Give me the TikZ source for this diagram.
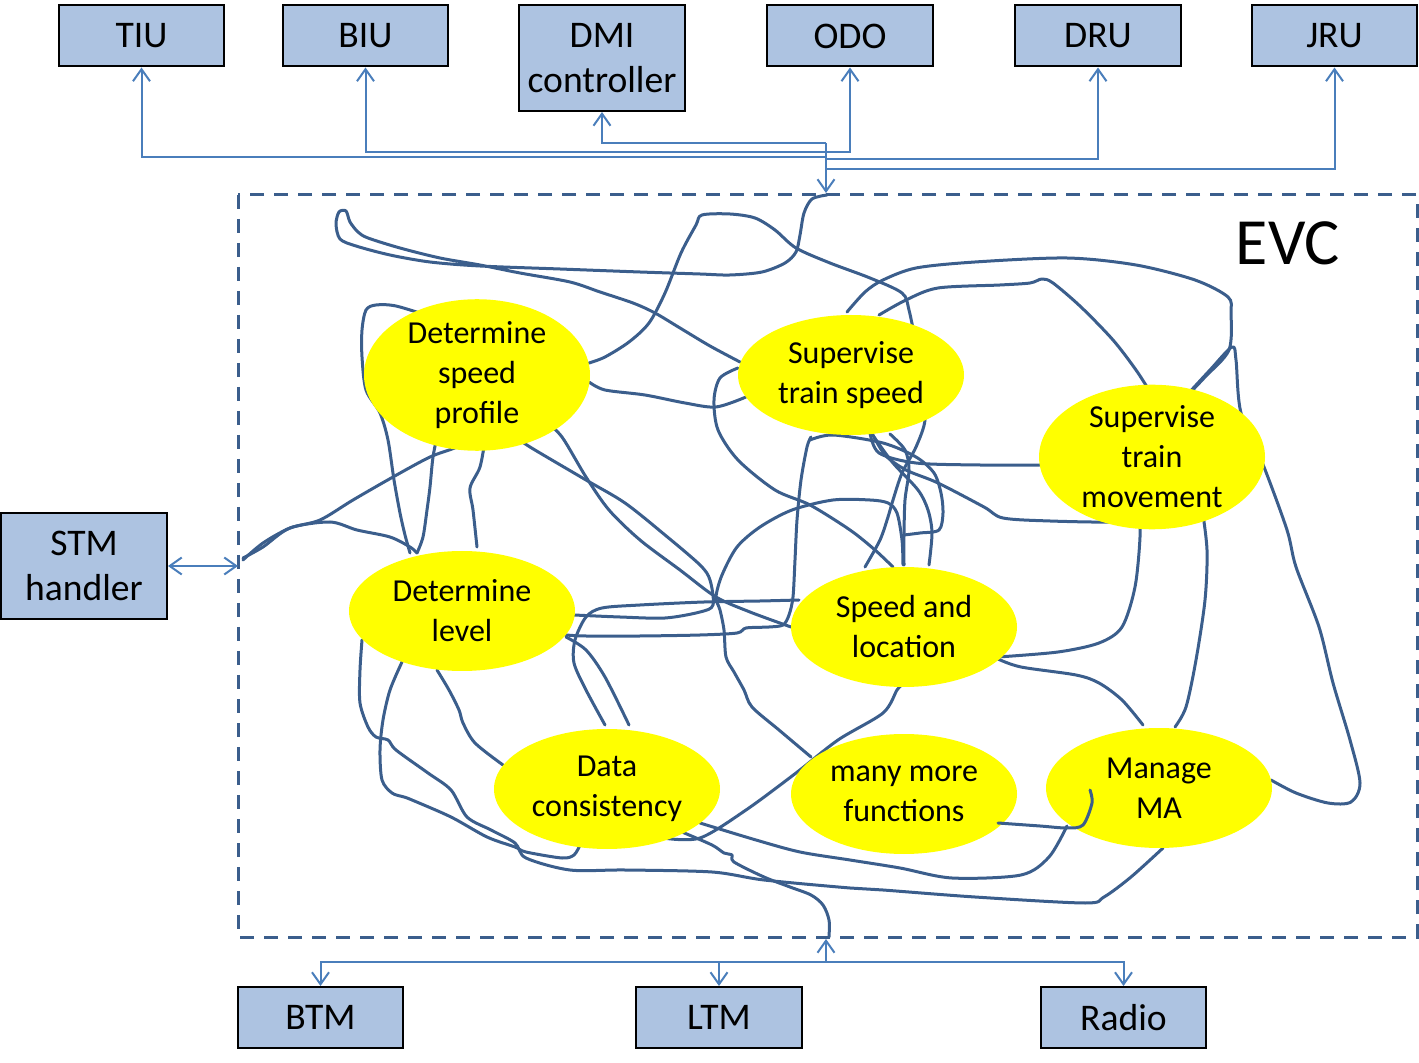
\documentclass[tikz,border=0pt]{standalone}
\usepackage{fontspec}
\setmainfont{Carlito}
\usetikzlibrary{shapes.geometric,arrows.meta,calc}
\definecolor{boxblue}{HTML}{ADC3E1}
\definecolor{connblue}{HTML}{4A7EBB}
\definecolor{spagblue}{HTML}{3B5E8C}
\definecolor{fnyellow}{HTML}{FFFF00}
\pgfdeclarelayer{bg}
\pgfsetlayers{bg,main}
\tikzset{
  unitbox/.style={draw=black, line width=1pt, fill=boxblue, inner sep=0pt,
    minimum width=82.5pt, minimum height=30.5pt, align=center,
    font=\fontsize{18.8}{22.5}\selectfont},
  fnell/.style={ellipse, fill=fnyellow, inner sep=0pt, minimum width=113pt,
    minimum height=60pt, align=center, font=\fontsize{16}{20}\selectfont},
  conn/.style={draw=connblue, line width=1pt,
    arrows={-Straight Barb[length=6pt,width=8.5pt]}},
  spag/.style={draw=spagblue, line width=1.5pt, line join=round, line cap=round},
  evcbox/.style={draw=spagblue, line width=1.5pt, dash pattern=on 7pt off 5pt},
}
\begin{document}
\begin{tikzpicture}[x=0.5pt,y=-0.5pt]
\useasboundingbox (0,0) rectangle (1419,1063);

% EVC frame
\coordinate (evcNW) at (238,195);
\coordinate (evcSE) at (1417,937);
\draw[evcbox] (evcNW) rectangle (evcSE);
\node[font=\fontsize{33}{38}\selectfont] (evc) at (1288,243) {EVC};

% outer units
\node[unitbox] (tiu) at (141.5,36) {TIU};
\node[unitbox] (biu) at (365.5,36) {BIU};
\node[unitbox, minimum width=83pt, minimum height=53pt] (dmi) at (602,58) {DMI\\controller};
\node[unitbox, minimum width=83pt] (odo) at (850,36) {ODO};
\node[unitbox, minimum width=83pt] (dru) at (1098,36) {DRU};
\node[unitbox] (jru) at (1334.5,36) {JRU};
\node[unitbox, minimum width=83pt, minimum height=53pt] (stm) at (84,566) {STM\\handler};
\node[unitbox] (btm) at (320.5,1017.5) {BTM};
\node[unitbox, minimum width=83pt] (ltm) at (719,1017.5) {LTM};
\node[unitbox] (radio) at (1123.5,1017.5) {Radio};

% functions
\node[fnell] (dsp) at (477,375) {Determine\\speed\\profile};
\node[fnell] (sts) at (851,375) {Supervise\\train speed};
\node[fnell] (stmv) at (1152,457) {Supervise\\train\\movement};
\node[fnell] (dl) at (462,611) {Determine\\level};
\node[fnell] (sl) at (904,627) {Speed and\\location};
\node[fnell] (dc) at (607,789) {Data\\consistency};
\node[fnell] (mmf) at (904,794) {many more\\functions};
\node[fnell] (mma) at (1159,788) {Manage\\MA};

% top bus
\coordinate (topin) at (826,193);
\coordinate (jD) at (826,143);
\coordinate (jB) at (826,152);
\coordinate (jT) at (826,157);
\coordinate (jR) at (826,159);
\coordinate (jJ) at (826,169);
\draw[conn] (jD) -| (dmi.south);
\draw[conn] (jT) -| (tiu.south);
\draw[conn] (jB) -| (biu.south);
\draw[conn] (jB) -| (odo.south);
\draw[conn] (jR) -| (dru.south);
\draw[conn] (jJ) -| (jru.south);
\draw[conn] (jD) -- (topin);

% bottom bus
\coordinate (botin) at (826,939);
\coordinate (jBot) at (826,962);
\draw[conn] (jBot) -- (botin);
\draw[conn] (jBot) -| (btm.north);
\draw[conn] (jBot) -| (ltm.north);
\draw[conn] (jBot) -| (radio.north);

% STM link
\draw[conn, arrows={Straight Barb[length=6pt,width=8.5pt]-Straight Barb[length=6pt,width=8.5pt]}]
  (stm.east) -- (stm.east -| evcNW);

% internal interconnections (hand drawn)
\begin{pgfonlayer}{bg}
\draw[spag] plot[smooth, tension=0.5] coordinates {(827,195) (812,199) (804,213) (800,235) (796,252) (785,263) (762,272) (730,275) (700,274) (640,272) (560,269) (480,266) (430,262) (390,255) (356,246) (340,239) (336,224) (339,212) (346,211) (350,222) (358,232) (368,238) (400,248) (440,258) (480,265) (520,273) (570,282) (600,292) (633,303) (655,313) (680,328) (710,346) (740,362)};
\draw[spag] plot[smooth, tension=0.5] coordinates {(589,363) (605,357) (629,342) (649,323) (665,293) (681,253) (696,225) (702,215) (730,214) (755,218) (775,230) (796,248) (830,263) (870,278) (902,293) (909,310) (916,347) (920,393) (925,420) (916,447) (902,473) (893,500) (888,517) (880,540) (865,567)};
\draw[spag] plot[smooth, tension=0.5] coordinates {(738,368) (720,378) (714,400) (718,430) (738,460) (775,490) (810,505) (850,530) (875,550) (893,567)};
\draw[spag] plot[smooth, tension=0.5] coordinates {(589,382) (605,390) (645,395) (685,403) (716,407) (746,397)};
\draw[spag] plot[smooth, tension=0.5] coordinates {(847,312) (865,292) (883,280) (916,268) (975,262) (1067,258) (1136,265) (1195,280) (1228,297) (1231,313) (1229,350) (1205,377) (1186,397)};
\draw[spag] plot[smooth, tension=0.5] coordinates {(879,315) (906,300) (938,288) (1000,285) (1030,283) (1042,279) (1053,283) (1081,307) (1113,340) (1136,370) (1152,395)};
\draw[spag] plot[smooth, tension=0.5] coordinates {(1186,396) (1210,370) (1232,347) (1236,360) (1241,413) (1264,467) (1287,530) (1296,567) (1319,627) (1333,683) (1350,740) (1360,783) (1351,802) (1328,803) (1296,793) (1271,780)};
\draw[spag] plot[smooth, tension=0.5] coordinates {(870,433) (879,453) (916,463) (980,465) (1040,465)};
\draw[spag] plot[smooth, tension=0.5] coordinates {(872,433) (885,455) (906,470) (938,483) (984,507) (1003,518) (1050,521) (1113,522) (1131,518) (1138,513) (1140,537) (1135,587) (1122,627) (1099,643) (1058,652) (998,657)};
\draw[spag] plot[smooth, tension=0.5] coordinates {(998,659) (1021,667) (1076,675) (1099,683) (1122,700) (1143,725)};
\draw[spag] plot[smooth, tension=0.5] coordinates {(1202,508) (1207,550) (1205,600) (1196,660) (1186,707) (1175,727)};
\draw[spag] plot[smooth, tension=0.5] coordinates {(810,440) (833,435) (883,443) (916,457) (934,473) (941,493) (943,513) (939,530) (920,533) (904,535)};
\draw[spag] plot[smooth, tension=0.5] coordinates {(904,565) (904,535) (905,500) (909,470) (905,450) (890,434)};
\draw[spag] plot[smooth, tension=0.5] coordinates {(929,565) (932,533) (928,510) (918,490) (893,463) (874,437)};
\draw[spag] plot[smooth, tension=0.5] coordinates {(811,757) (779,730) (752,707) (744,690) (734,672) (726,657) (724,630) (720,610) (716,597) (722,575) (737,547) (760,527) (792,510) (833,500) (870,500) (888,503) (897,513) (902,540) (903,565)};
\draw[spag] plot[smooth, tension=0.5] coordinates {(811,437) (807,447) (801,480) (797,520) (795,560) (793,597) (789,615) (783,625) (769,627) (746,628) (737,633) (700,635) (640,636) (586,636) (566,635)};
\draw[spag] plot[smooth, tension=0.5] coordinates {(546,422) (562,437) (586,477) (609,510) (640,540) (680,570) (716,597) (750,612) (791,627)};
\draw[spag] plot[smooth, tension=0.5] coordinates {(518,438) (530,447) (586,480) (625,503) (665,535) (700,565) (710,580) (713,605) (700,612) (665,618) (620,617) (574,615)};
\draw[spag] plot[smooth, tension=0.5] coordinates {(799,600) (760,601) (704,602) (640,605) (602,608) (586,617) (575,640) (574,663) (586,690) (605,725)};
\draw[spag] plot[smooth, tension=0.5] coordinates {(566,637) (586,650) (605,677) (629,725)};
\draw[spag] plot[smooth, tension=0.5] coordinates {(362,640) (360,670) (360,703) (368,727) (376,737) (388,740) (396,750) (428,773) (451,790) (467,817) (491,830) (515,843) (526,858) (570,870) (625,870) (712,872) (764,880) (850,888) (883,890) (975,897) (1085,903) (1104,897) (1131,877) (1163,848)};
\draw[spag] plot[smooth, tension=0.5] coordinates {(402,662) (390,690) (383,720) (380,750) (382,780) (392,793) (404,797) (412,800) (451,817) (487,837) (515,847) (526,852) (562,858) (574,855) (580,845)};
\draw[spag] plot[smooth, tension=0.5] coordinates {(437,670) (449,690) (459,710) (463,723) (475,743) (503,765)};
\draw[spag] plot[smooth, tension=0.5] coordinates {(700,823) (756,840) (800,852) (850,860) (900,868) (952,878) (1021,875) (1049,857) (1067,826)};
\draw[spag] plot[smooth, tension=0.5] coordinates {(682,832) (712,845) (724,853) (732,855) (734,862) (764,877) (790,887) (811,895) (823,905) (829,920) (829,937)};
\draw[spag] plot[smooth, tension=0.5] coordinates {(663,838) (700,838) (746,810) (796,773) (838,740) (883,713) (897,690) (902,685)};
\draw[spag] plot[smooth, tension=0.5] coordinates {(432,317) (396,306) (376,305) (366,310) (362,330) (362,357) (366,390) (380,413) (388,440) (394,480) (400,513) (405,535) (410,553)};
\draw[spag] plot[smooth, tension=0.5] coordinates {(438,432) (433,457) (430,487) (427,510) (423,537) (417,553)};
\draw[spag] plot[smooth, tension=0.5] coordinates {(485,440) (480,467) (470,488) (473,510) (477,547)};
\draw[spag] plot[smooth, tension=0.5] coordinates {(483,433) (457,447) (430,457) (393,477) (353,500) (320,520) (290,528) (263,543) (243,560)};
\draw[spag] plot[smooth, tension=0.5] coordinates {(243,558) (263,547) (290,528) (330,522) (357,530) (390,537) (410,547) (417,553)};
\end{pgfonlayer}
% hook into Manage MA (drawn over the ellipse)
\draw[spag] plot[smooth, tension=0.5] coordinates {(998,823) (1040,826) (1067,828) (1083,825) (1092,803) (1090,790)};
\end{tikzpicture}
\end{document}
